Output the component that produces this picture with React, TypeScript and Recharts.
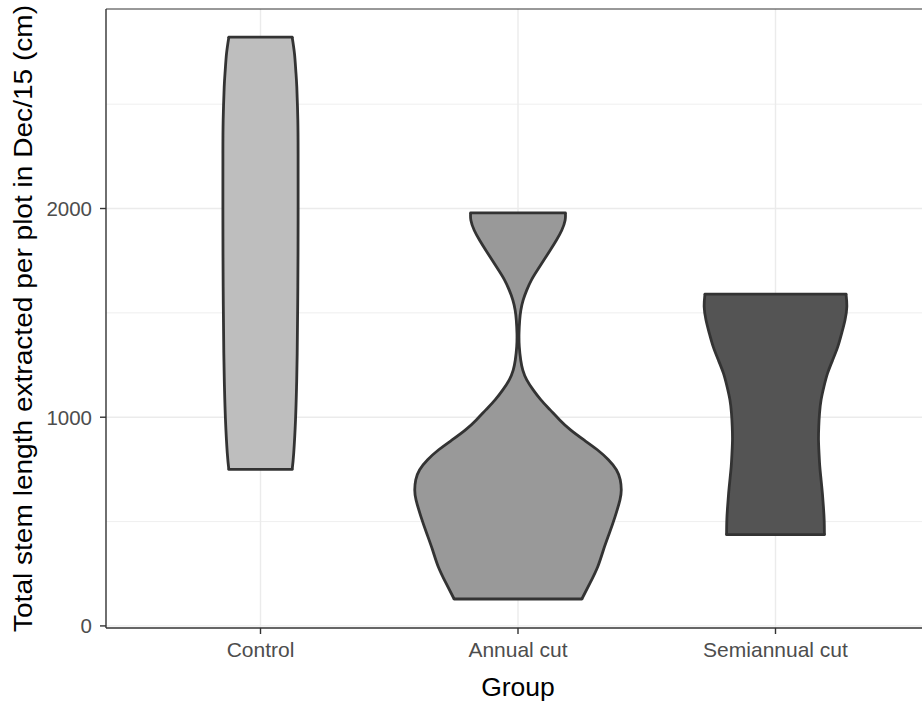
import React from 'react';
import {
  ComposedChart,
  Area,
  XAxis,
  YAxis,
  CartesianGrid,
  ReferenceLine,
  Label,
} from 'recharts';

// Groups along the horizontal axis (positions 1, 2, 3)
const groups = ['Control', 'Annual cut', 'Semiannual cut'];
const groupFills = ['#BEBEBE', '#999999', '#545454'];

// Violin outlines: stem length (cm) and half-width of the density at that length
const controlLength = [750, 828, 987, 1146, 1306, 1625, 1944, 2263, 2423, 2582, 2662, 2742, 2821];
const controlHalfWidth = [
  0.123, 0.129, 0.136, 0.14, 0.1425, 0.145, 0.146, 0.146, 0.145, 0.141, 0.137, 0.132, 0.123,
];

const annualLength = [
  129, 206, 285, 365, 445, 524, 604, 652, 700, 748, 796, 844, 891, 939, 987, 1035, 1083, 1131,
  1179, 1226, 1274, 1338, 1402, 1465, 1513, 1561, 1609, 1657, 1704, 1752, 1800, 1848, 1896, 1944,
  1979,
];
const annualHalfWidth = [
  0.248, 0.28, 0.31, 0.332, 0.355, 0.377, 0.396, 0.401, 0.397, 0.382, 0.351, 0.308, 0.256, 0.204,
  0.162, 0.125, 0.089, 0.059, 0.034, 0.0186, 0.0105, 0.005, 0.004, 0.0066, 0.011, 0.02, 0.034,
  0.052, 0.075, 0.1, 0.125, 0.149, 0.17, 0.183, 0.184,
];

const semiLength = [
  437, 509, 572, 636, 700, 764, 828, 891, 955, 1019, 1083, 1146, 1210, 1274, 1338, 1402, 1466,
  1529, 1590,
];
const semiHalfWidth = [
  0.19, 0.189, 0.186, 0.182, 0.177, 0.172, 0.169, 0.167, 0.168, 0.171, 0.177, 0.188, 0.202, 0.222,
  0.242, 0.257, 0.27, 0.277, 0.274,
];

const yTicks = [0, 1000, 2000];
const yMinorTicks = [500, 1500, 2500];
const yDomain: [number, number] = [-10, 2956];
const xDomain: [number, number] = [0.4, 3.6];

const FONT = '"Liberation Sans", Arial, Helvetica, sans-serif';
const OUTLINE = '#333333';
const OUTLINE_WIDTH = 2.8;

type Row = { y: number; range: [number, number] };

const buildRows = (lengths: number[], halfWidths: number[], center: number): Row[] =>
  lengths.map((y, i) => ({ y, range: [center - halfWidths[i], center + halfWidths[i]] }));

const violins = [
  { rows: buildRows(controlLength, controlHalfWidth, 1), fill: groupFills[0] },
  { rows: buildRows(annualLength, annualHalfWidth, 2), fill: groupFills[1] },
  { rows: buildRows(semiLength, semiHalfWidth, 3), fill: groupFills[2] },
];

const XTick = (props: any) => {
  const { x, y, payload } = props;
  return (
    <text
      x={x}
      y={y + 15.3}
      textAnchor="middle"
      fontFamily={FONT}
      fontSize={21}
      fill="#4D4D4D"
    >
      {groups[Math.round(payload.value) - 1]}
    </text>
  );
};

const YTick = (props: any) => {
  const { x, y, payload } = props;
  return (
    <text
      x={x}
      y={y}
      dy="0.36em"
      textAnchor="end"
      fontFamily={FONT}
      fontSize={20.5}
      fill="#4D4D4D"
    >
      {payload.value}
    </text>
  );
};

const YTitle = (props: any) => {
  const vb = props.viewBox ?? { x: 0, y: 9, width: 106, height: 619 };
  const cx = vb.x + 31.7;
  const cy = vb.y + vb.height / 2;
  return (
    <g transform={`translate(${cx},${cy}) scale(1,1.08) rotate(-90)`}>
      <text x={0} y={0} textAnchor="middle" fontFamily={FONT} fontSize={26} fill="#000">
        Total stem length extracted per plot in Dec/15 (cm)
      </text>
    </g>
  );
};

const XTitle = (props: any) => {
  const vb = props.viewBox ?? { x: 106, y: 628, width: 824, height: 78 };
  const cx = vb.x + vb.width / 2;
  const cy = vb.y + 68;
  return (
    <text x={cx} y={cy} textAnchor="middle" fontFamily={FONT} fontSize={26.5} fill="#000">
      Group
    </text>
  );
};

export default function App() {
  return (
    <div
      style={{
        position: 'absolute',
        left: 0,
        top: 0,
        width: 922,
        height: 706,
        overflow: 'hidden',
        background: '#FFFFFF',
      }}
    >
      <ComposedChart
        width={940}
        height={706}
        layout="vertical"
        margin={{ top: 9, right: 10, bottom: 0, left: 0 }}
      >
        <CartesianGrid
          horizontalValues={yMinorTicks}
          vertical={false}
          stroke="#EBEBEB"
          strokeWidth={0.8}
        />
        <CartesianGrid
          horizontalValues={yTicks}
          verticalValues={[1, 2, 3]}
          stroke="#EBEBEB"
          strokeWidth={1.4}
        />
        <XAxis
          type="number"
          domain={xDomain}
          ticks={[1, 2, 3]}
          allowDataOverflow
          height={78}
          tickSize={6}
          tickMargin={8}
          axisLine={{ stroke: OUTLINE, strokeWidth: 1.4 }}
          tickLine={{ stroke: OUTLINE, strokeWidth: 1.4 }}
          tick={<XTick />}
          interval={0}
        >
          <Label content={<XTitle />} />
        </XAxis>
        <YAxis
          type="number"
          dataKey="y"
          domain={yDomain}
          ticks={yTicks}
          reversed
          allowDataOverflow
          width={106}
          tickSize={6}
          tickMargin={8}
          axisLine={{ stroke: OUTLINE, strokeWidth: 1.4 }}
          tickLine={{ stroke: OUTLINE, strokeWidth: 1.4 }}
          tick={<YTick />}
          interval={0}
        >
          <Label content={<YTitle />} />
        </YAxis>
        <ReferenceLine y={yDomain[1]} stroke={OUTLINE} strokeWidth={1} />
        {violins.map((v, i) => (
          <Area
            key={groups[i]}
            data={v.rows}
            dataKey="range"
            type="natural"
            fill={v.fill}
            fillOpacity={1}
            stroke={OUTLINE}
            strokeWidth={OUTLINE_WIDTH}
            strokeLinejoin="round"
            dot={false}
            activeDot={false}
            isAnimationActive={false}
          />
        ))}
        {violins.map((v, i) => {
          const first = v.rows[0];
          const last = v.rows[v.rows.length - 1];
          return (
            <React.Fragment key={`ends-${groups[i]}`}>
              <ReferenceLine
                segment={[
                  { x: first.range[0], y: first.y },
                  { x: first.range[1], y: first.y },
                ]}
                stroke={OUTLINE}
                strokeWidth={OUTLINE_WIDTH}
                strokeLinecap="round"
              />
              <ReferenceLine
                segment={[
                  { x: last.range[0], y: last.y },
                  { x: last.range[1], y: last.y },
                ]}
                stroke={OUTLINE}
                strokeWidth={OUTLINE_WIDTH}
                strokeLinecap="round"
              />
            </React.Fragment>
          );
        })}
      </ComposedChart>
    </div>
  );
}
